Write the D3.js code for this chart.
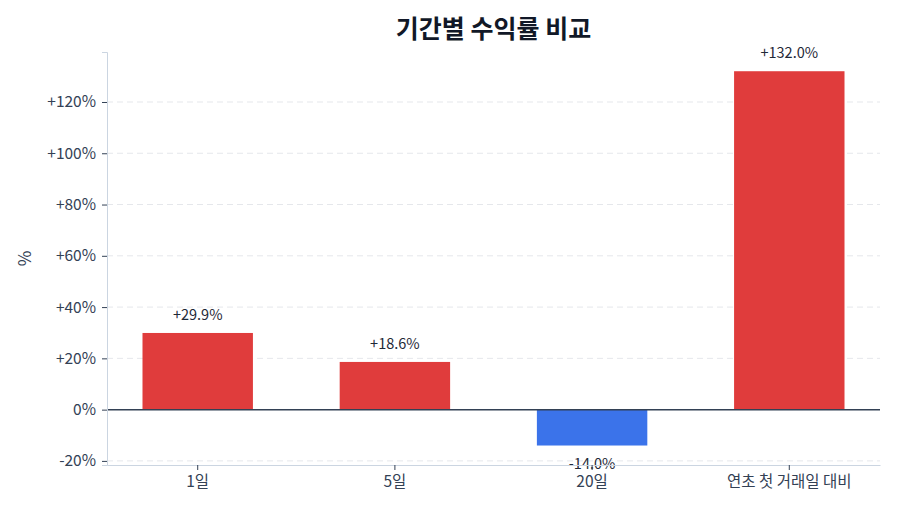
<!DOCTYPE html>
<html>
<head>
<meta charset="utf-8">
<script src="https://cdn.jsdelivr.net/npm/d3@7"></script>
<style>
  body { margin: 0; background: #fff; font-family: "Noto Sans CJK KR", "Noto Sans", sans-serif; }
</style>
</head>
<body>
<script>
const categories = ["1일", "5일", "20일", "연초 첫 거래일 대비"]
const returns = [29.9, 18.6, -14.0, 132.0]
const yTicks = [-20, 0, 20, 40, 60, 80, 100, 120]

const width = 900, height = 514
const marginTop = 52, marginRight = 20, marginBottom = 49, marginLeft = 107

const svg = d3.select("body").append("svg")
  .attr("width", width)
  .attr("height", height)
  .attr("viewBox", [0, 0, width, height])
  .style("font-family", '"Noto Sans CJK KR", "Noto Sans", sans-serif')

const xScale = d3.scaleBand()
  .domain(categories)
  .range([marginLeft, width - marginRight])
  .paddingInner(0.44)
  .paddingOuter(0.18)

const yScale = d3.scaleLinear()
  .domain([-21.6, 139.5])
  .range([height - marginBottom, marginTop])

const sign = v => v > 0 ? "+" : v < 0 ? "-" : ""
const fmt = v => sign(v) + d3.format(".0f")(Math.abs(v)) + "%"
const fmtVal = v => sign(v) + d3.format(".1f")(Math.abs(v)) + "%"

// grid
svg.append("g")
  .selectAll("line")
  .data(yTicks)
  .join("line")
  .attr("x1", marginLeft)
  .attr("x2", width - marginRight)
  .attr("y1", d => yScale(d))
  .attr("y2", d => yScale(d))
  .attr("stroke", "#e5e7eb")
  .attr("stroke-dasharray", "6,4")

// bars
svg.append("g")
  .selectAll("rect")
  .data(returns)
  .join("rect")
  .attr("x", (d, i) => xScale(categories[i]))
  .attr("y", d => yScale(Math.max(0, d)))
  .attr("width", xScale.bandwidth())
  .attr("height", d => Math.abs(yScale(d) - yScale(0)))
  .attr("fill", d => d >= 0 ? "#e03c3c" : "#3b73ea")

// value labels
svg.append("g")
  .selectAll("text")
  .data(returns)
  .join("text")
  .attr("x", (d, i) => xScale(categories[i]) + xScale.bandwidth() / 2)
  .attr("y", d => d >= 0 ? yScale(d) - 13 : yScale(d) + 23)
  .attr("text-anchor", "middle")
  .attr("font-size", 14.5)
  .attr("fill", "#1f2937")
  .text(fmtVal)

// zero line
svg.append("line")
  .attr("x1", marginLeft)
  .attr("x2", width - marginRight)
  .attr("y1", yScale(0))
  .attr("y2", yScale(0))
  .attr("stroke", "#334155")
  .attr("stroke-width", 1.5)

// y axis
svg.append("g")
  .attr("transform", `translate(${marginLeft},0)`)
  .call(d3.axisLeft(yScale).tickValues(yTicks).tickFormat(fmt).tickSize(5).tickPadding(6))
  .call(g => g.select(".domain").attr("stroke", "#cbd5e1"))
  .call(g => g.selectAll(".tick line").attr("stroke", "#334155"))
  .call(g => g.selectAll(".tick text")
    .attr("font-size", 15.5)
    .attr("fill", "#334155")
    .style("font-family", '"Noto Sans CJK KR", "Noto Sans", sans-serif'))

// x axis
svg.append("g")
  .attr("transform", `translate(0,${height - marginBottom})`)
  .call(d3.axisBottom(xScale).tickSize(5).tickPadding(6).tickSizeOuter(0))
  .call(g => g.select(".domain").attr("stroke", "#cbd5e1"))
  .call(g => g.selectAll(".tick line").attr("stroke", "#334155"))
  .call(g => g.selectAll(".tick text")
    .attr("font-size", 15.5)
    .attr("fill", "#334155")
    .style("font-family", '"Noto Sans CJK KR", "Noto Sans", sans-serif'))

// y label
svg.append("text")
  .attr("transform", `translate(31,${(marginTop + height - marginBottom) / 2}) rotate(-90)`)
  .attr("text-anchor", "middle")
  .attr("font-size", 17)
  .attr("fill", "#334155")
  .text("%")

// title
svg.append("text")
  .attr("x", (marginLeft + width - marginRight) / 2)
  .attr("y", 38)
  .attr("text-anchor", "middle")
  .attr("font-size", 25)
  .attr("font-weight", "bold")
  .attr("fill", "#111827")
  .text("기간별 수익률 비교")
</script>
</body>
</html>
